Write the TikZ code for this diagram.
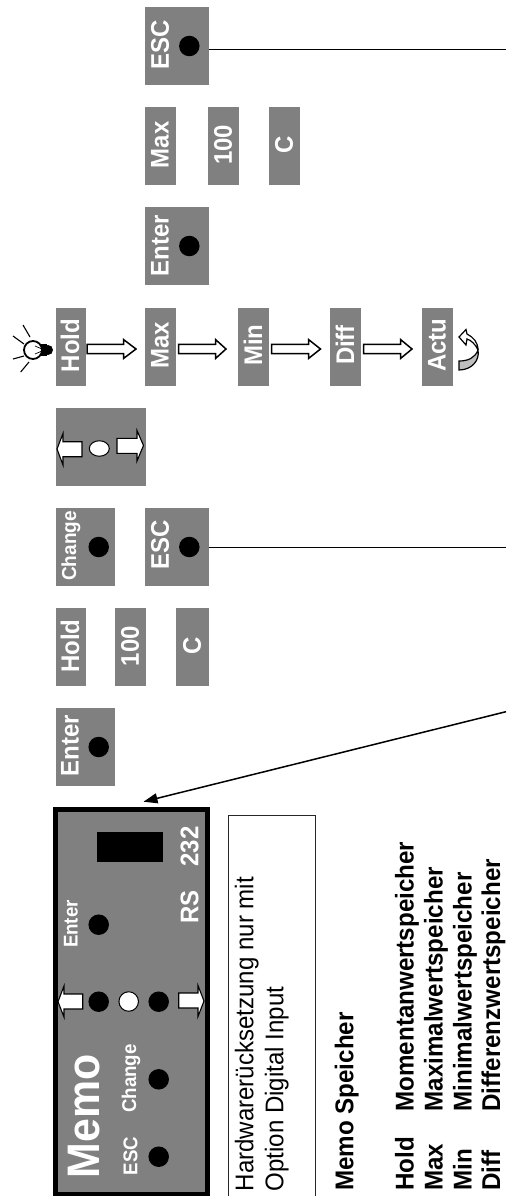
\documentclass[tikz,border=0pt]{standalone}
\usepackage{fontspec}
\setmainfont[FakeStretch=0.94]{Liberation Sans}
\usetikzlibrary{arrows.meta,shapes.geometric}
\tikzset{
  x=1pt,y=-1pt,
  gbox/.style={fill=panelgrey,draw=none,inner sep=0pt,rectangle},
  lbl/.style={rotate=90,text=white,inner sep=0pt,font=\bfseries\fontsize{#1}{#1}\selectfont},
  lbl/.default=25.5,
  blk/.style={rotate=90,text=black,inner sep=0pt,anchor=base west,font=\bfseries\fontsize{25.7}{25.7}\selectfont},
  reg/.style={rotate=90,text=black,inner sep=0pt,anchor=base west,font=\fontsize{25.6}{25.6}\selectfont},
  led/.style={circle,fill=black,inner sep=0pt,minimum size=20.5pt},
  blockar/.style={draw=black,fill=white,line width=1.5pt,line join=miter},
}
\definecolor{panelgrey}{RGB}{128,128,128}
% right-pointing block arrow: x0 body start, xh head base, xt tip, yc centre, half body, half head
\newcommand{\rarrow}[6]{\draw[blockar] (#1,#4-#5)--(#2,#4-#5)--(#2,#4-#6)--(#3,#4)--(#2,#4+#6)--(#2,#4+#5)--(#1,#4+#5)--cycle;}
\begin{document}
\begin{tikzpicture}
\useasboundingbox (0,0) rectangle (506,1196);
% top column
\node[gbox,minimum width=64pt,minimum height=78pt] (escA) at (177,46) {};
\node[lbl] (escAt) at (160,45) {ESC};
\node[led] (escAd) at (189.3,46) {};
\node[gbox,minimum width=31pt,minimum height=78pt] (maxA) at (160.5,146) {};
\node[lbl] (maxAt) at (160,144.7) {Max};
\node[gbox,minimum width=31pt,minimum height=78pt] (hundA) at (223.5,146) {};
\node[lbl] (hundAt) at (223,145) {100};
\node[gbox,minimum width=31pt,minimum height=78pt] (cA) at (284.5,146) {};
\node[lbl] (cAt) at (284,145) {C};
\node[gbox,minimum width=64pt,minimum height=78pt] (entA) at (177,246) {};
\node[lbl] (entAt) at (160,245.5) {Enter};
\node[led] (entAd) at (189.3,246) {};
% Hold row
\node[gbox,minimum width=30pt,minimum height=78pt] (holdB) at (71,347) {};
\node[lbl] (holdBt) at (70,345.5) {Hold};
\node[gbox,minimum width=31pt,minimum height=78pt] (maxB) at (160.5,347) {};
\node[lbl] (maxBt) at (160,345) {Max};
\node[gbox,minimum width=31pt,minimum height=78pt] (minB) at (253.5,347) {};
\node[lbl] (minBt) at (253,345) {Min};
\node[gbox,minimum width=31pt,minimum height=78pt] (diffB) at (345.5,347) {};
\node[lbl] (diffBt) at (345,345) {Diff};
\node[gbox,minimum width=31pt,minimum height=78pt] (actuB) at (437.5,347) {};
\node[lbl] (actuBt) at (437,345) {Actu};
\rarrow{87}{123.5}{136}{349}{4.7}{9.5}
\rarrow{178.5}{215.5}{226}{349}{4.7}{9.5}
\rarrow{271.7}{308.5}{320.5}{349}{4.7}{9.5}
\rarrow{363.5}{400.5}{412}{349}{4.7}{9.5}
% bulb
\fill[black] (40,344) rectangle (47,356);
\fill[black] (48,350) circle[radius=5];
\draw[black,line width=1.8pt,fill=white] (33,350) circle[radius=9];
\draw[black,line width=.7pt] (35,346)--(42,349)--(42,351)--(35,354);
\draw[black,line width=1.1pt] (23,325)--(30,337) (13,336)--(24,344) (13,359)--(24,356) (20.7,372)--(29,362);
% curved arrow
\draw[black,fill=lightgray,line width=1.2pt] (459,370)--(459,361) .. controls (468,361) and (475,358) .. (478,350) .. controls (480,360) and (472,370) .. (459,370)--cycle;
\draw[black,fill=white,line width=1.2pt] (478,350) .. controls (478,342) and (473,337) .. (467,334) -- (466,329.5) -- (459,337) -- (466,345) -- (467,339) .. controls (471,340) and (476,345) .. (478,350);
% arrows panel
\node[gbox,minimum width=90pt,minimum height=78pt] (pan) at (101,447) {};
\draw[blockar,line width=1.1pt] (82,441.7)--(63,441.7)--(63,433.5)--(57,449)--(63,465)--(63,456.7)--(82,456.7)--cycle;
\node[ellipse,draw=black,fill=white,line width=1pt,inner sep=0pt,minimum width=20pt,minimum height=15.5pt] (panE) at (99.3,448.5) {};
\draw[blockar,line width=1.1pt] (117,438.3)--(137,438.3)--(137,430.5)--(143.5,445.5)--(137,461)--(137,453.3)--(117,453.3)--cycle;
% Change / ESC
\node[gbox,minimum width=59pt,minimum height=78pt] (chB) at (85.5,547) {};
\node[lbl=20.2] (chBt) at (71,546) {Change};
\node[led] (chBd) at (98.7,547) {};
\node[gbox,minimum width=64pt,minimum height=78pt] (escB) at (177,547) {};
\node[lbl] (escBt) at (160,545) {ESC};
\node[led] (escBd) at (189.3,547) {};
% Hold 100 C
\node[gbox,minimum width=30pt,minimum height=78pt] (holdC) at (71,647) {};
\node[lbl] (holdCt) at (70,646) {Hold};
\node[gbox,minimum width=31pt,minimum height=78pt] (hundC) at (130.5,647) {};
\node[lbl] (hundCt) at (130,646) {100};
\node[gbox,minimum width=33pt,minimum height=78pt] (cC) at (192.5,647) {};
\node[lbl] (cCt) at (192,646) {C};
\node[gbox,minimum width=59pt,minimum height=78pt] (entC) at (85.5,747) {};
\node[lbl] (entCt) at (70,745.5) {Enter};
\node[led] (entCd) at (98.7,747) {};
% device
\node[rectangle,draw=black,fill=panelgrey,line width=5pt,inner sep=0pt,minimum width=152.5pt,minimum height=385pt] (dev) at (131.5,1001.5) {};
\fill[black] (97,832) rectangle (163,862);
\node[lbl] (rsb) at (189.6,846.5) {232};
\node[lbl] (rsa) at (189.6,907) {RS};
\node[lbl=19.9] (devEnt) at (71,924) {Enter};
\node[led] (devEntD) at (98.7,924.7) {};
\draw[blockar,line width=1.1pt] (82.7,994)--(64,994)--(64,986)--(58,1001.7)--(64,1017)--(64,1009)--(82.7,1009)--cycle;
\node[led] (devL) at (98.7,1001.7) {};
\node[circle,draw=black,fill=white,line width=1pt,inner sep=0pt,minimum size=19.5pt] (devW) at (128.7,1001.5) {};
\node[led] (devR) at (158.7,1001.7) {};
\draw[blockar,line width=1.1pt] (178.7,993)--(198,993)--(198,985.5)--(204,1001)--(198,1016.5)--(198,1008)--(178.7,1008)--cycle;
\node[lbl=45.6] (devMemo) at (84,1116.5) {Memo};
\node[lbl=19.9] (devCh) at (131,1078.5) {Change};
\node[led] (devChD) at (158.7,1079.3) {};
\node[lbl=19.9] (devEsc) at (130.5,1156) {ESC};
\node[led] (devEscD) at (158.7,1156.7) {};
% connectors
\coordinate (endA) at (506,49.5);
\coordinate (endB) at (506,547.3);
\coordinate (endC) at (506,711.7);
\coordinate (tip) at (143.5,801.7);
\draw[black,line width=1.5pt] (escA.east |- endA)--(endA);
\draw[black,line width=1.5pt] (escB.east |- endB)--(endB);
\draw[black,line width=1.5pt,-{Triangle[length=14pt,width=10pt]}] (endC)--(tip);
% note
\node[rectangle,draw=black!85,line width=.9pt,fill=white,inner sep=0pt,minimum width=86.5pt,minimum height=382pt] (note) at (271.7,1006.7) {};
\node[reg] (n1) at (253.3,1191.5) {Hardwarerücksetzung nur mit};
\node[reg] (n2) at (283.3,1191.5) {Option Digital Input};
% legend
\node[blk] (t0) at (353.3,1191) {Memo Speicher};
\node[blk] (a1) at (413.5,1191) {Hold};
\node[blk] (b1) at (413.5,1111.7) {Momentanwertspeicher};
\node[blk] (a2) at (442.5,1191) {Max};
\node[blk] (b2) at (442.5,1111.7) {Maximalwertspeicher};
\node[blk] (a3) at (471.5,1191) {Min};
\node[blk] (b3) at (471.5,1111.7) {Minimalwertspeicher};
\node[blk] (a4) at (500,1191) {Diff};
\node[blk] (b4) at (500,1111.7) {Differenzwertspeicher};
\end{tikzpicture}
\end{document}
